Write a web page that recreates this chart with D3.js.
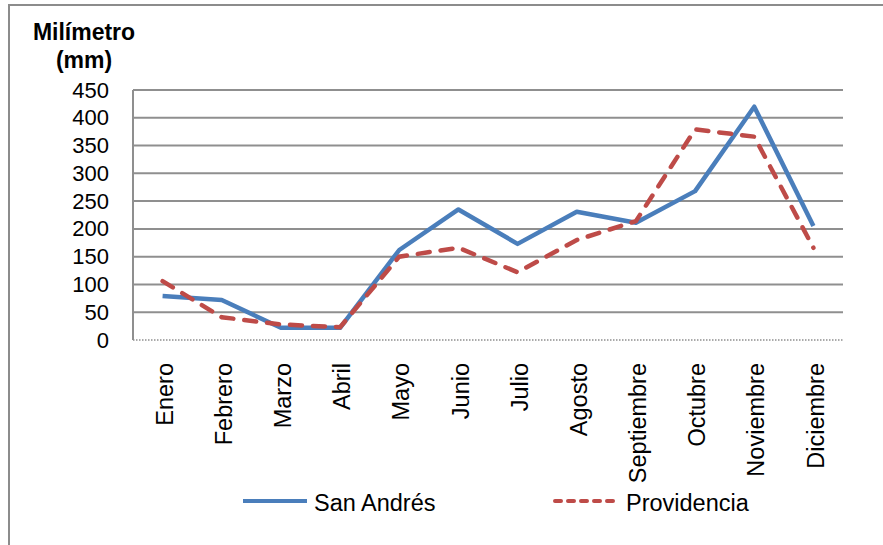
<!DOCTYPE html>
<html>
<head>
<meta charset="utf-8">
<script src="https://cdn.jsdelivr.net/npm/d3@7"></script>
<style>
  body { margin: 0; background: #fff; }
  svg { display: block; font-family: "Liberation Sans", Arial, sans-serif; }
</style>
</head>
<body>
<div class="chart"></div>
<script>
// Monthly rainfall (mm)
const months = ['Enero', 'Febrero', 'Marzo', 'Abril', 'Mayo', 'Junio', 'Julio',
  'Agosto', 'Septiembre', 'Octubre', 'Noviembre', 'Diciembre'];
const sanAndres = [79, 72, 22, 22, 162, 235, 173, 231, 211, 268, 420, 205];
const providencia = [106, 41, 28, 23, 150, 166, 122, 180, 214, 379, 366, 166];
const yTicks = [0, 50, 100, 150, 200, 250, 300, 350, 400, 450];
const seriesNames = ['San Andrés', 'Providencia'];

const W = 883, H = 545;
const margin = { top: 90, right: 40, bottom: 205, left: 133 };
const width = W - margin.left - margin.right;
const height = H - margin.top - margin.bottom;

const svg = d3.select('.chart')
  .append('svg')
  .attr('width', W)
  .attr('height', H);

// outer chart frame (cut at right/bottom)
svg.append('rect')
  .attr('x', 9).attr('y', 5)
  .attr('width', W).attr('height', H)
  .attr('fill', 'none')
  .attr('stroke', '#8c8c8c')
  .attr('stroke-width', 2);

const g = svg.append('g')
  .attr('transform', `translate(${margin.left},${margin.top})`);

const x = d3.scaleBand()
  .domain(months)
  .range([0, width]);

const y = d3.scaleLinear()
  .domain([0, 450])
  .range([height, 0]);

// gridlines
g.selectAll('.grid')
  .data(yTicks.filter(d => d > 0))
  .enter()
  .append('line')
  .attr('class', 'grid')
  .attr('x1', 0).attr('x2', width)
  .attr('y1', d => y(d)).attr('y2', d => y(d))
  .attr('stroke', '#8f8f8f')
  .attr('stroke-width', 2);

// zero line, dotted
g.append('line')
  .attr('x1', 0).attr('x2', width)
  .attr('y1', y(0)).attr('y2', y(0))
  .attr('stroke', '#8f8f8f')
  .attr('stroke-width', 1.5)
  .attr('stroke-dasharray', '1.5,1.5');

// y axis line
g.append('line')
  .attr('x1', 0).attr('x2', 0)
  .attr('y1', 0).attr('y2', height)
  .attr('stroke', '#8f8f8f')
  .attr('stroke-width', 2);

// y tick labels
const yAxis = d3.axisLeft(y).tickValues(yTicks).tickSize(0).tickPadding(24);
g.append('g')
  .attr('class', 'axis y-axis')
  .call(yAxis)
  .call(a => a.select('.domain').remove())
  .selectAll('text')
  .attr('font-size', 22)
  .attr('font-family', '"Liberation Sans", Arial, sans-serif')
  .attr('fill', '#000');

// x tick labels, rotated
g.selectAll('.xlabel')
  .data(months)
  .enter()
  .append('text')
  .attr('class', 'xlabel')
  .attr('transform', d => `translate(${x(d) + x.bandwidth() / 2 + 2},${height + 23}) rotate(-90)`)
  .attr('text-anchor', 'end')
  .attr('dy', '0.35em')
  .attr('font-size', 23.5)
  .text(d => d);

// axis title
svg.append('text')
  .attr('x', 84).attr('y', 40)
  .attr('text-anchor', 'middle')
  .attr('font-size', 23)
  .attr('font-weight', 'bold')
  .text('Milímetro');
svg.append('text')
  .attr('x', 84).attr('y', 68)
  .attr('text-anchor', 'middle')
  .attr('font-size', 23)
  .attr('font-weight', 'bold')
  .text('(mm)');

const line = d3.line()
  .x((d, i) => x(months[i]) + x.bandwidth() / 2)
  .y(d => y(d));

g.append('path')
  .datum(sanAndres)
  .attr('d', line)
  .attr('fill', 'none')
  .attr('stroke', '#4a7ebb')
  .attr('stroke-width', 4.5)
  .attr('stroke-linejoin', 'round');

g.append('path')
  .datum(providencia)
  .attr('d', line)
  .attr('fill', 'none')
  .attr('stroke', '#be4b48')
  .attr('stroke-width', 4.5)
  .attr('stroke-linecap', 'round')
  .attr('stroke-dasharray', '12,11');

// legend
const legend = [
  { name: seriesNames[0], color: '#4a7ebb', dash: null, x: 243 },
  { name: seriesNames[1], color: '#be4b48', dash: '6,7', x: 555 }
];
const lg = svg.selectAll('.legend')
  .data(legend)
  .enter()
  .append('g')
  .attr('class', 'legend')
  .attr('transform', d => `translate(${d.x},501)`);
lg.append('line')
  .attr('x1', 0).attr('x2', 64)
  .attr('stroke', d => d.color)
  .attr('stroke-width', 4)
  .attr('stroke-linecap', d => d.dash ? 'round' : 'butt')
  .attr('stroke-dasharray', d => d.dash);
lg.append('text')
  .attr('x', 71)
  .attr('y', 10)
  .attr('font-size', 23.5)
  .text(d => d.name);
</script>
</body>
</html>
